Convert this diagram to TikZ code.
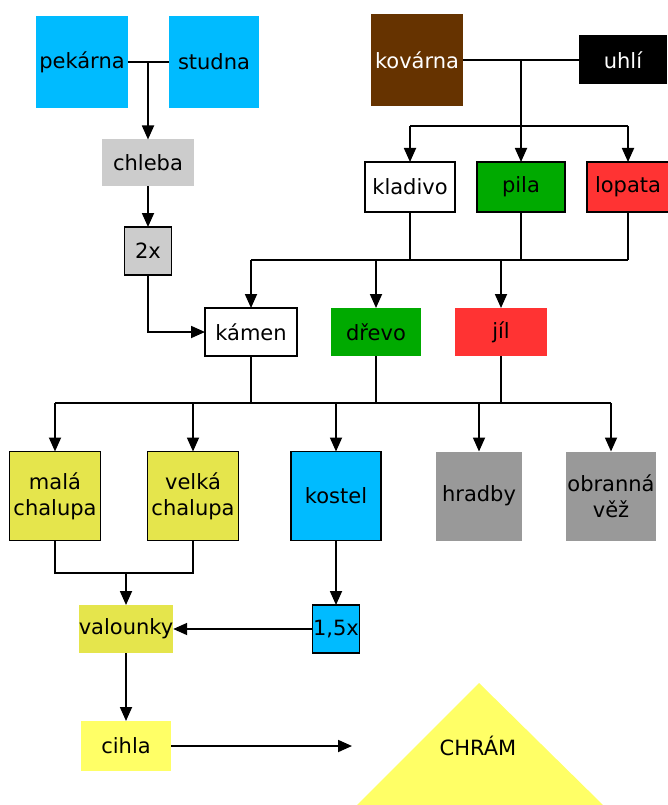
\documentclass[tikz,border=0pt]{standalone}
\usepackage{fontspec}
\setmainfont{DejaVu Sans}
\usepackage{tikz}
\usetikzlibrary{arrows.meta, positioning}

\definecolor{modra}{HTML}{00BBFF}
\definecolor{svetleseda}{HTML}{CCCCCC}
\definecolor{seda}{HTML}{999999}
\definecolor{hneda}{HTML}{663300}
\definecolor{zelena}{HTML}{00AA00}
\definecolor{cervena}{HTML}{FF3333}
\definecolor{olivova}{HTML}{E5E54C}
\definecolor{zluta}{HTML}{FFFF66}

\begin{document}
\begin{tikzpicture}[x=1pt,y=-1pt,
    every node/.style={rectangle,inner sep=0pt,outer sep=0pt,align=center,font=\fontsize{21}{26}\selectfont},
    ramecek/.style={draw,line width=1.8pt},
    spoj/.style={line width=1.8pt},
    sipka/.style={line width=1.8pt,-{Triangle[length=14pt,width=12pt]}}]
    \useasboundingbox (0,0) rectangle (667,805);

    % chram
    \fill[zluta] (357,805) -- (479,683) -- (603,805) -- cycle;
    \node (chram) at (478,746) {CHRÁM};
    \coordinate (cil) at (352,746);

    % horni rada
    \node[fill=modra,minimum width=92pt,minimum height=92pt] (pekarna) at (82,62) {pekárna};
    \node[fill=modra,minimum width=90pt,minimum height=92pt] (studna) at (214,62) {studna};
    \node[fill=hneda,text=white,minimum width=92pt,minimum height=92pt] (kovarna) at (417,60) {kovárna};
    \node[fill=black,text=white,minimum width=88pt,minimum height=49pt] (uhli) at (623,60) {uhlí};

    \node[fill=svetleseda,minimum width=92pt,minimum height=47pt] (chleba) at (148,163) {chleba};
    \node[fill=svetleseda,ramecek,minimum width=47pt,minimum height=48pt] (dvakrat) at (148,251) {2x};

    % nastroje
    \node[fill=white,ramecek,minimum width=90pt,minimum height=50pt] (kladivo) at (410,187) {kladivo};
    \node[fill=zelena,ramecek,minimum width=88pt,minimum height=50pt] (pila) at (521,187) {pila};
    \node[fill=cervena,ramecek,minimum width=82pt,minimum height=50pt] (lopata) at (628,187) {lopata};

    % suroviny
    \node[fill=white,ramecek,minimum width=92pt,minimum height=48pt] (kamen) at (251,332) {kámen};
    \node[fill=zelena,minimum width=90pt,minimum height=48pt] (drevo) at (376,332) {dřevo};
    \node[fill=cervena,minimum width=92pt,minimum height=48pt] (jil) at (501,332) {jíl};

    % stavby
    \node[fill=olivova,ramecek,minimum width=91pt,minimum height=89pt] (mala) at (55,496) {malá\\chalupa};
    \node[fill=olivova,ramecek,minimum width=91pt,minimum height=89pt] (velka) at (193,496) {velká\\chalupa};
    \node[fill=modra,ramecek,minimum width=90pt,minimum height=89pt] (kostel) at (336,496) {kostel};
    \node[fill=seda,minimum width=86pt,minimum height=89pt] (hradby) at (479,496) {hradby};
    \node[fill=seda,minimum width=90pt,minimum height=89pt] (obranna) at (611,496) {obranná\\věž};

    \node[fill=olivova,minimum width=90pt,minimum height=48pt] (valounky) at (126,629) {valounky};
    \node[fill=modra,ramecek,minimum width=47pt,minimum height=48pt] (jedenapul) at (336,629) {1,5x};
    \node[fill=zluta,minimum width=90pt,minimum height=50pt] (cihla) at (126,746) {cihla};

    % urovne rozvodu
    \coordinate (s1) at (0,126);
    \coordinate (s2) at (0,260);
    \coordinate (s3) at (0,403);
    \coordinate (s4) at (0,573);

    % pekarna + studna
    \draw[spoj] (pekarna.east) -- (studna.west);
    \draw[sipka] (pekarna.east -| chleba.north) -- (chleba.north);
    \draw[sipka] (chleba.south) -- (dvakrat.north);
    \draw[sipka] (dvakrat.south) |- (kamen.west);

    % kovarna + uhli
    \draw[spoj] (kovarna.east) -- (uhli.west);
    \draw[spoj] (kovarna.east -| pila) -- (pila |- s1);
    \draw[spoj] (kladivo |- s1) -- (lopata |- s1);
    \foreach \n in {kladivo,pila,lopata} {
        \draw[sipka] (\n |- s1) -- (\n.north);
    }

    % nastroje -> suroviny
    \foreach \n in {kladivo,pila,lopata} {
        \draw[spoj] (\n.south) -- (\n |- s2);
    }
    \draw[spoj] (kamen |- s2) -- (lopata |- s2);
    \foreach \n in {kamen,drevo,jil} {
        \draw[sipka] (\n |- s2) -- (\n.north);
    }

    % suroviny -> stavby
    \foreach \n in {kamen,drevo,jil} {
        \draw[spoj] (\n.south) -- (\n |- s3);
    }
    \draw[spoj] (mala |- s3) -- (obranna |- s3);
    \foreach \n in {mala,velka,kostel,hradby,obranna} {
        \draw[sipka] (\n |- s3) -- (\n.north);
    }

    % chalupy -> valounky -> cihla -> chram
    \draw[spoj] (mala.south) |- (velka |- s4) -- (velka.south);
    \draw[sipka] (valounky |- s4) -- (valounky.north);
    \draw[sipka] (kostel.south) -- (jedenapul.north);
    \draw[sipka] (jedenapul.west) -- (valounky.east);
    \draw[sipka] (valounky.south) -- (cihla.north);
    \draw[sipka] (cihla.east) -- (cil);
\end{tikzpicture}
\end{document}
